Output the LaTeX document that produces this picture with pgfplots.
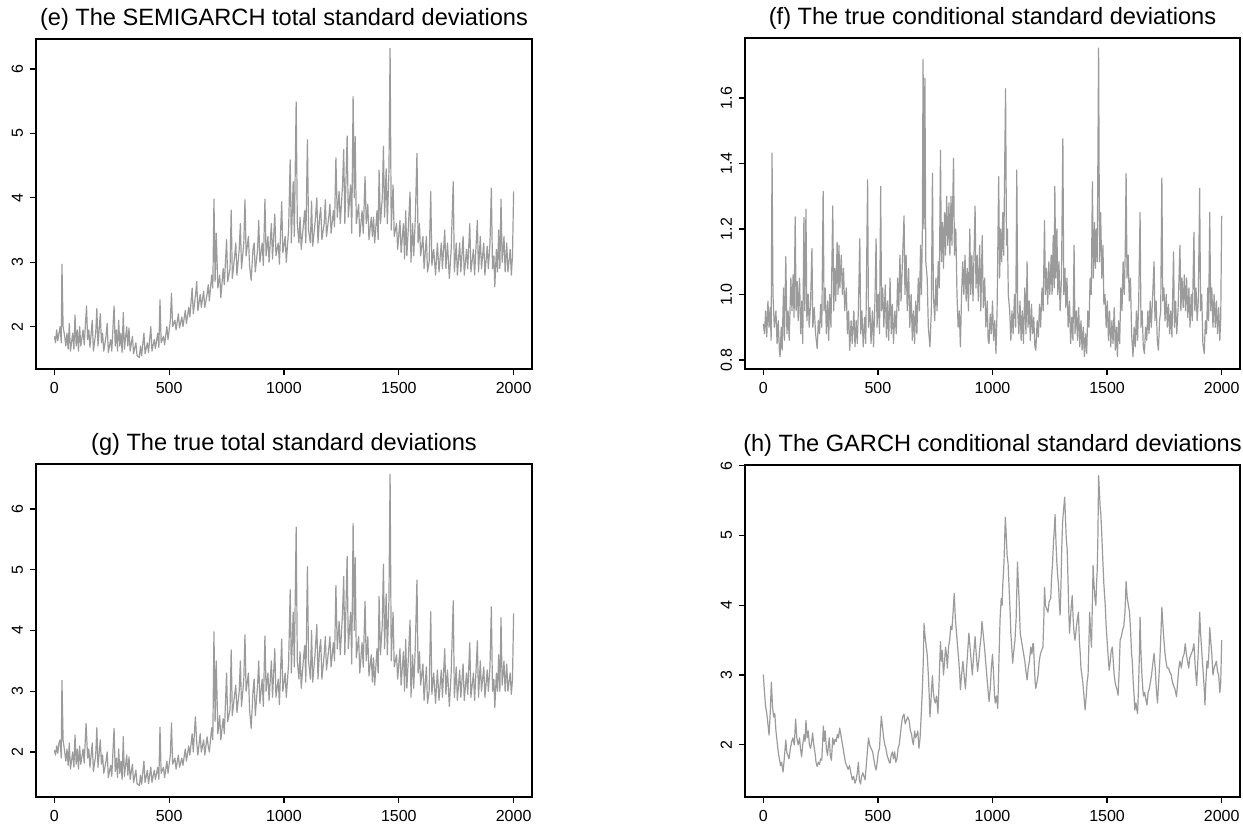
\documentclass[border=0pt]{standalone}
\usepackage{fontspec}
\setmainfont{Liberation Sans}
\usepackage{pgfplots}
\pgfplotsset{compat=1.18}
\definecolor{lc}{RGB}{155,155,155}
\pgfplotsset{
  rline/.style={color=lc, no markers, line width=0.6pt, line join=round},
  rpanel/.style={
    scale only axis,
    xmin=-80, xmax=2080,
    xtick={0,500,1000,1500,2000},
    axis line style={line width=0.6pt},
    tick style={black, line width=0.6pt},
    tick align=outside,
    xtick pos=lower, ytick pos=left,
    major tick length=3pt,
    /pgf/number format/assume math mode=true,
    /pgf/number format/1000 sep={},
    tick label style={font=\fontsize{8}{9}\selectfont},
    yticklabel style={rotate=90, anchor=south},
    every axis title shift=0pt,
    title style={font=\fontsize{11.8}{14}\selectfont, at={(0.5,1)}, anchor=base, yshift=6.75pt},
  }
}
\begin{document}
\begin{tikzpicture}
\path[use as bounding box] (0pt,0pt) rectangle (621.5pt,415pt);
% (e)
\begin{axis}[rpanel, at={(18pt,230.5pt)}, anchor=south west, width=248pt, height=165pt,
  ymin=1.343, ymax=6.466, ytick={2,3,4,5,6},
  title={(e) The SEMIGARCH total standard deviations}]
\addplot[rline] coordinates {
(0,1.85)(5,1.75)(10,1.95)(15,1.78)(20,1.9)(25,2.0)(30,1.75)(33,2.97)(38,2.0)(45,1.85)(50,1.7)(55,1.9)(60,1.65)(65,2.05)(70,1.62)(80,1.9)(85,1.65)(90,2.18)(95,1.7)(100,1.95)
(105,1.62)(110,2.0)(115,1.7)(125,1.95)(130,1.72)(140,2.32)(145,1.8)(150,1.95)(155,1.68)(165,2.1)(170,1.62)(180,1.9)(185,2.28)(190,1.7)(200,2.2)(205,1.75)(210,1.9)(215,1.62)(225,1.85)(230,2.05)
(235,1.6)(245,1.8)(250,1.62)(260,2.32)(265,1.7)(270,1.95)(275,1.62)(280,2.1)(285,1.7)(290,1.9)(295,1.6)(300,2.22)(305,1.65)(315,2.0)(320,1.7)(325,1.98)(330,1.62)(340,1.85)(345,1.58)(355,1.75)
(360,1.55)(370,1.52)(375,1.7)(380,1.55)(390,1.9)(395,1.58)(405,1.75)(410,1.6)(420,2.0)(425,1.62)(435,1.8)(440,1.66)(450,1.9)(455,1.68)(460,2.42)(465,1.75)(475,1.85)(480,1.72)(490,2.0)(495,1.8)
(505,2.1)(510,2.52)(515,2.0)(525,2.1)(530,1.95)(540,2.2)(545,1.98)(555,2.15)(560,2.0)(570,2.25)(575,2.05)(585,2.3)(590,2.15)(600,2.6)(605,2.2)(615,2.5)(620,2.7)(625,2.25)(635,2.5)(640,2.3)
(650,2.55)(655,2.3)(665,2.5)(670,2.65)(675,2.4)(685,2.8)(690,2.6)(695,3.98)(700,2.7)(705,3.45)(712,2.6)(720,2.8)(725,2.45)(735,2.9)(740,2.65)(750,3.35)(755,2.7)(765,2.9)(770,3.81)(775,2.75)
(785,3.1)(790,3.3)(795,2.8)(805,3.2)(810,3.6)(815,2.9)(825,3.3)(830,3.97)(835,3.1)(845,3.4)(850,2.95)(857,2.72)(865,3.2)(870,3.3)(875,2.85)(885,3.2)(890,3.65)(895,3.0)(905,3.3)(910,2.95)
(917,3.98)(922,3.1)(930,3.4)(935,3.0)(945,3.6)(950,3.05)(960,3.75)(965,3.1)(975,3.3)(980,2.97)(990,3.94)(995,3.15)(1005,3.4)(1010,3.0)(1020,3.5)(1027,4.59)(1032,3.3)(1040,4.25)(1045,3.4)(1053,5.49)
(1058,3.6)(1065,3.3)(1070,3.7)(1075,3.2)(1085,3.6)(1090,3.8)(1095,3.3)(1102,4.9)(1107,3.5)(1115,3.3)(1120,3.95)(1125,3.25)(1135,3.6)(1143,4.0)(1148,3.3)(1155,3.7)(1160,3.85)(1165,3.35)(1175,3.6)(1180,3.97)
(1185,3.4)(1195,3.7)(1200,3.9)(1205,3.45)(1215,3.8)(1220,3.55)(1226,4.62)(1232,3.7)(1240,4.1)(1245,3.6)(1255,4.2)(1260,4.75)(1265,3.6)(1275,4.96)(1280,3.7)(1290,4.2)(1295,3.45)(1301,5.57)(1306,4.0)(1310,4.95)
(1315,3.6)(1325,3.9)(1330,3.4)(1340,3.8)(1345,3.45)(1353,4.33)(1358,3.6)(1365,3.9)(1370,3.35)(1380,3.7)(1385,3.4)(1390,3.7)(1395,3.3)(1405,3.8)(1410,3.35)(1414,4.43)(1420,3.6)(1428,4.0)(1433,4.8)(1438,3.7)
(1445,4.45)(1450,3.6)(1457,4.4)(1462,6.32)(1467,3.5)(1475,4.2)(1480,3.4)(1490,3.6)(1495,3.2)(1505,3.65)(1510,3.15)(1520,3.6)(1525,3.05)(1530,3.8)(1535,3.1)(1541,3.5)(1549,4.09)(1553,3.0)(1560,3.6)(1565,3.1)
(1572,3.7)(1579,4.69)(1584,3.3)(1590,3.6)(1595,3.1)(1605,3.4)(1610,2.9)(1620,3.4)(1625,2.85)(1632,3.0)(1639,4.1)(1644,2.95)(1652,3.2)(1660,2.8)(1668,3.3)(1675,2.85)(1685,3.3)(1690,2.9)(1700,3.5)(1705,2.9)
(1712,3.3)(1720,2.75)(1728,3.2)(1737,4.25)(1742,2.85)(1750,3.3)(1755,2.8)(1765,3.3)(1770,2.85)(1780,3.4)(1785,2.8)(1795,3.2)(1800,2.9)(1809,3.6)(1814,2.85)(1825,3.2)(1830,2.8)(1837,3.3)(1842,3.65)(1847,2.85)
(1855,3.4)(1860,2.9)(1870,3.3)(1875,2.8)(1885,3.25)(1890,2.9)(1897,3.3)(1903,4.15)(1908,2.9)(1914,3.1)(1918,2.62)(1925,3.2)(1930,2.85)(1935,3.5)(1940,2.9)(1945,3.98)(1950,3.0)(1958,3.4)(1963,2.85)(1970,3.3)
(1975,2.85)(1985,3.2)(1990,2.8)(1995,3.1)(2000,4.1)
};
\end{axis}
% (f)
\begin{axis}[rpanel, at={(372.5pt,230.5pt)}, anchor=south west, width=247.5pt, height=165.5pt,
  ymin=0.7725, ymax=1.783, ytick={0.8,1.0,1.2,1.4,1.6},
  yticklabel style={/pgf/number format/.cd, fixed, fixed zerofill, precision=1},
  title={(f) The true conditional standard deviations}]
\addplot[rline] coordinates {
(0,0.91)(5,0.88)(10,0.95)(15,0.87)(20,0.98)(25,0.9)(30,0.96)(34,0.86)(38,1.432)(42,1.0)(48,0.9)(55,0.95)(60,0.85)(65,0.92)(70,0.83)(73,0.81)(78,0.9)(82,0.83)(88,1.02)(92,0.86)
(98,1.115)(103,0.88)(108,0.95)(113,0.86)(120,1.05)(125,0.95)(130,1.06)(134,0.93)(139,1.237)(143,0.95)(148,1.04)(152,0.92)(158,1.05)(163,0.88)(168,0.98)(172,0.85)(177,1.235)(181,0.95)(186,1.26)(190,0.92)
(196,1.0)(200,0.9)(206,0.97)(212,1.14)(216,0.9)(222,0.96)(228,0.88)(235,0.835)(240,0.92)(245,0.88)(250,0.97)(255,0.9)(261,1.315)(265,0.95)(270,1.02)(275,0.88)(281,0.98)(285,0.86)(290,1.0)(295,0.9)
(303,1.27)(307,0.95)(312,1.08)(316,0.98)(322,1.16)(326,1.0)(330,1.15)(334,1.02)(340,1.12)(345,1.0)(350,1.08)(355,0.95)(362,1.02)(367,0.88)(372,0.95)(377,0.83)(383,0.92)(388,0.85)(395,0.95)(400,0.84)
(405,0.92)(410,0.85)(415,0.96)(421,1.17)(425,0.88)(430,0.95)(436,0.84)(442,0.93)(447,0.85)(455,1.35)(459,0.9)(465,0.96)(470,0.85)(476,0.95)(481,0.84)(487,0.98)(492,1.17)(496,0.9)(502,1.0)(507,0.88)
(512,1.33)(516,0.95)(521,1.02)(526,0.9)(532,1.03)(537,0.87)(542,0.98)(547,0.86)(553,1.05)(558,0.88)(563,0.97)(568,0.85)(574,0.95)(580,0.88)(586,1.05)(591,0.95)(596,1.12)(601,0.98)(607,1.1)(614,1.24)
(618,1.0)(623,1.12)(628,0.95)(634,1.08)(639,0.9)(645,1.0)(650,0.86)(655,0.95)(660,0.85)(665,0.98)(670,0.88)(676,1.05)(681,0.95)(686,1.15)(690,1.0)(694,1.2)(697,1.717)(701,1.2)(705,1.66)(709,1.1)
(715,1.05)(720,0.9)(727,0.84)(733,0.95)(738,1.37)(742,1.0)(748,0.92)(753,1.05)(758,0.95)(763,1.1)(768,1.02)(773,1.44)(777,1.1)(782,1.22)(786,1.08)(791,1.25)(795,1.12)(800,1.3)(805,1.15)(810,1.28)
(814,1.12)(819,1.3)(823,1.15)(830,1.415)(834,1.12)(840,1.2)(845,1.0)(850,0.9)(855,0.95)(860,0.84)(865,1.0)(870,1.1)(875,1.0)(880,1.12)(885,0.98)(890,1.08)(895,0.95)(901,1.2)(905,1.0)(910,1.12)
(915,0.98)(924,1.27)(928,1.02)(933,1.12)(938,0.98)(944,1.15)(949,0.95)(955,1.18)(960,0.96)(966,1.05)(971,0.9)(977,0.98)(981,0.86)(985,0.85)(990,0.94)(995,0.88)(1000,0.98)(1005,0.86)(1010,0.92)(1015,0.82)
(1020,0.95)(1027,1.36)(1031,1.05)(1036,1.2)(1040,1.1)(1045,1.25)(1049,1.12)(1053,1.38)(1057,1.628)(1061,1.15)(1065,1.2)(1069,1.0)(1075,0.95)(1080,0.86)(1085,0.95)(1090,0.88)(1096,1.0)(1101,0.9)(1106,1.38)(1110,0.95)
(1115,0.88)(1120,0.98)(1125,0.86)(1130,0.95)(1135,0.85)(1141,1.02)(1146,0.88)(1151,1.1)(1155,0.9)(1160,0.98)(1165,0.86)(1170,0.97)(1175,0.88)(1180,0.93)(1185,0.84)(1189,0.83)(1195,0.92)(1200,0.87)(1205,0.97)(1210,0.9)
(1216,1.02)(1221,0.95)(1227,1.225)(1231,1.0)(1236,1.08)(1241,0.97)(1246,1.1)(1250,1.0)(1256,1.12)(1260,1.0)(1265,1.18)(1269,1.02)(1272,1.33)(1276,1.05)(1281,1.2)(1285,1.0)(1290,1.1)(1295,0.95)(1301,1.05)(1307,1.476)
(1311,1.0)(1316,1.08)(1320,0.96)(1325,1.05)(1330,0.9)(1336,0.98)(1341,0.85)(1346,0.93)(1351,0.86)(1356,1.15)(1360,0.88)(1366,0.95)(1371,0.86)(1376,0.96)(1381,0.84)(1386,0.92)(1391,0.83)(1396,0.9)(1401,0.81)(1406,0.88)
(1411,0.82)(1416,0.95)(1421,0.9)(1426,1.05)(1431,1.0)(1436,1.344)(1440,1.05)(1445,1.22)(1449,1.08)(1453,1.2)(1457,1.1)(1463,1.752)(1467,1.1)(1472,1.25)(1477,1.05)(1482,1.15)(1486,0.97)(1491,1.0)(1496,0.9)(1501,0.98)
(1506,0.86)(1511,0.95)(1516,0.84)(1521,0.92)(1526,0.85)(1531,0.96)(1536,0.83)(1541,0.9)(1545,0.81)(1550,0.92)(1555,0.85)(1560,1.02)(1565,0.95)(1570,1.1)(1575,1.0)(1579,1.12)(1583,1.37)(1587,1.05)(1592,1.12)(1597,0.98)
(1602,1.05)(1607,0.88)(1613,0.81)(1618,0.9)(1623,0.84)(1628,0.95)(1633,0.86)(1638,0.98)(1644,1.25)(1648,0.9)(1653,0.95)(1658,0.84)(1663,0.82)(1668,0.9)(1673,0.86)(1678,0.95)(1683,0.88)(1688,0.98)(1693,0.9)(1699,1.0)
(1705,1.1)(1709,0.92)(1714,0.98)(1719,0.86)(1724,0.83)(1729,0.92)(1734,0.95)(1739,1.356)(1743,0.98)(1748,1.02)(1753,0.92)(1758,1.0)(1763,0.9)(1768,0.97)(1773,0.88)(1778,0.95)(1783,0.87)(1790,1.13)(1794,0.9)(1799,0.98)
(1804,0.88)(1810,0.96)(1818,1.15)(1822,0.95)(1827,1.05)(1832,0.96)(1837,1.06)(1842,0.95)(1847,1.05)(1852,0.93)(1857,1.02)(1862,0.9)(1867,1.0)(1872,0.92)(1879,1.19)(1883,0.95)(1888,1.02)(1893,0.92)(1898,0.98)(1904,1.324)
(1908,0.95)(1913,1.0)(1918,0.85)(1924,0.82)(1929,0.92)(1934,0.88)(1939,1.02)(1943,0.92)(1948,1.25)(1952,0.95)(1957,1.02)(1962,0.9)(1967,1.0)(1972,0.9)(1977,0.98)(1982,0.88)(1987,0.96)(1992,0.86)(1996,0.93)(2000,1.24)
};
\end{axis}
% (g)
\begin{axis}[rpanel, at={(18pt,16.5pt)}, anchor=south west, width=248pt, height=166.5pt,
  ymin=1.26, ymax=6.74, ytick={2,3,4,5,6},
  title={(g) The true total standard deviations}]
\addplot[rline] coordinates {
(0,2.03)(5,1.95)(10,2.1)(15,1.98)(20,2.15)(25,2.2)(30,1.9)(33,3.18)(38,2.2)(45,2.0)(50,1.85)(55,2.05)(60,1.78)(65,2.15)(70,1.72)(80,2.0)(85,1.75)(90,2.28)(95,1.8)(100,2.05)
(105,1.72)(110,2.1)(115,1.8)(125,2.05)(130,1.82)(138,2.47)(145,1.9)(150,2.05)(155,1.75)(165,2.15)(170,1.68)(180,1.95)(185,2.4)(190,1.75)(200,2.2)(205,1.8)(210,1.95)(215,1.65)(225,1.85)(230,2.0)
(235,1.58)(245,1.78)(250,1.6)(260,2.39)(265,1.68)(270,1.9)(275,1.58)(280,2.05)(285,1.65)(290,1.85)(295,1.55)(300,2.25)(305,1.6)(315,1.95)(320,1.62)(325,1.92)(330,1.55)(340,1.8)(345,1.5)(355,1.7)
(360,1.48)(370,1.45)(375,1.62)(380,1.47)(390,1.85)(395,1.5)(405,1.7)(410,1.48)(420,1.75)(425,1.5)(435,1.7)(440,1.55)(450,1.75)(455,1.55)(460,2.41)(465,1.65)(475,1.75)(480,1.58)(490,1.85)(495,1.65)
(505,1.95)(510,2.48)(515,1.8)(525,1.9)(530,1.72)(540,1.95)(545,1.75)(555,1.9)(560,1.78)(570,2.05)(575,1.85)(585,2.1)(590,1.95)(600,2.3)(605,2.0)(614,2.58)(620,2.15)(625,1.95)(635,2.3)(640,2.0)
(650,2.2)(655,1.95)(665,2.25)(670,2.1)(675,2.0)(685,2.4)(690,2.2)(695,3.98)(700,2.5)(705,3.5)(712,2.3)(720,2.6)(725,2.2)(735,2.55)(740,2.3)(750,3.3)(755,2.5)(765,2.7)(770,3.68)(775,2.6)
(785,2.95)(790,3.1)(795,2.65)(805,3.0)(810,3.5)(815,2.75)(825,3.2)(830,3.93)(835,3.0)(845,3.3)(850,2.7)(857,2.39)(865,3.0)(870,3.2)(875,2.6)(885,3.1)(890,3.5)(895,2.8)(905,3.2)(910,2.75)
(917,3.91)(922,3.0)(930,3.3)(935,2.85)(945,3.5)(950,2.9)(960,3.7)(965,2.9)(975,3.2)(980,2.78)(990,3.86)(995,3.0)(1005,3.3)(1010,2.9)(1020,3.45)(1027,4.67)(1032,3.3)(1040,4.3)(1045,3.4)(1053,5.7)
(1058,3.5)(1065,3.2)(1070,3.65)(1075,3.05)(1085,3.55)(1090,3.75)(1095,3.15)(1102,5.05)(1107,3.5)(1115,3.2)(1120,4.0)(1125,3.15)(1135,3.6)(1143,4.1)(1148,3.2)(1155,3.7)(1160,3.85)(1165,3.2)(1175,3.6)(1180,3.9)
(1185,3.35)(1195,3.7)(1200,3.9)(1205,3.4)(1215,3.8)(1220,3.5)(1226,4.74)(1232,3.7)(1240,4.15)(1245,3.6)(1255,4.3)(1260,4.89)(1265,3.6)(1275,5.22)(1280,3.7)(1290,4.3)(1295,3.45)(1301,5.76)(1306,4.0)(1310,5.2)
(1315,3.55)(1325,3.9)(1330,3.3)(1340,3.8)(1345,3.4)(1353,4.48)(1358,3.5)(1365,3.9)(1370,3.25)(1380,3.6)(1385,3.15)(1390,3.55)(1395,3.1)(1405,3.7)(1410,3.3)(1414,4.56)(1420,3.6)(1428,4.1)(1433,5.09)(1438,3.7)
(1445,4.6)(1450,3.6)(1457,4.5)(1462,6.57)(1467,3.5)(1475,4.3)(1480,3.4)(1490,3.6)(1495,3.2)(1505,3.7)(1510,3.1)(1520,3.65)(1525,3.0)(1530,3.85)(1535,3.05)(1541,3.5)(1549,4.17)(1553,2.9)(1560,3.6)(1565,3.05)
(1572,3.75)(1579,4.83)(1584,3.3)(1590,3.65)(1595,3.1)(1605,3.45)(1610,2.85)(1620,3.4)(1625,2.8)(1632,3.0)(1639,4.31)(1644,2.95)(1652,3.3)(1660,2.8)(1668,3.35)(1675,2.85)(1685,3.35)(1690,2.9)(1700,3.7)(1705,2.95)
(1712,3.35)(1720,2.75)(1728,3.3)(1737,4.49)(1742,2.9)(1750,3.4)(1755,2.85)(1765,3.35)(1770,2.9)(1780,3.45)(1785,2.85)(1795,3.3)(1800,2.95)(1809,3.8)(1814,2.9)(1825,3.3)(1830,2.85)(1837,3.4)(1842,3.83)(1847,2.9)
(1855,3.5)(1860,3.0)(1870,3.4)(1875,2.9)(1885,3.35)(1890,3.0)(1897,3.4)(1903,4.39)(1908,3.0)(1914,3.2)(1918,2.73)(1925,3.3)(1930,3.0)(1935,3.6)(1940,3.0)(1945,4.21)(1950,3.1)(1958,3.5)(1963,3.0)(1970,3.45)
(1975,3.0)(1985,3.3)(1990,2.95)(1995,3.2)(2000,4.28)
};
\end{axis}
% (h)
\begin{axis}[rpanel, at={(372.5pt,16.5pt)}, anchor=south west, width=247.5pt, height=166pt,
  ymin=1.253, ymax=6.01, ytick={2,3,4,5,6},
  title={(h) The GARCH conditional standard deviations}]
\addplot[rline] coordinates {
(0,3.01)(5,2.75)(10,2.55)(15,2.45)(20,2.3)(25,2.14)(30,2.45)(35,2.9)(40,2.55)(45,2.4)(50,2.45)(55,2.2)(60,2.05)(65,1.9)(70,1.8)(75,1.7)(80,1.75)(86,1.61)(90,1.75)(95,1.95)
(98,2.07)(102,1.9)(107,1.85)(112,1.8)(118,1.95)(124,2.05)(129,2.1)(135,2.0)(141,2.37)(146,2.1)(152,2.0)(158,2.1)(162,1.95)(167,1.83)(172,2.0)(178,2.15)(182,2.05)(186,2.35)(191,2.1)(196,2.2)
(201,2.0)(206,1.95)(211,2.05)(215,2.17)(220,2.0)(225,1.9)(230,1.75)(235,1.69)(240,1.75)(245,1.72)(250,1.8)(255,1.78)(262,2.27)(266,2.05)(270,2.2)(275,1.95)(280,1.85)(284,2.0)(288,2.1)(292,1.85)
(297,1.78)(303,2.1)(308,2.0)(313,2.08)(318,2.05)(323,2.15)(328,2.1)(333,2.24)(338,2.15)(343,2.05)(348,1.95)(353,1.85)(358,1.75)(364,1.7)(370,1.65)(376,1.7)(382,1.6)(388,1.5)(394,1.55)(400,1.45)
(405,1.5)(410,1.6)(415,1.75)(419,1.5)(424,1.44)(429,1.55)(434,1.6)(439,1.55)(444,1.5)(449,1.7)(455,1.95)(459,2.1)(464,2.0)(470,1.95)(477,1.9)(482,1.8)(487,1.7)(492,1.64)(497,1.75)(502,1.9)
(507,1.95)(511,2.2)(515,2.41)(520,2.25)(525,2.1)(530,2.0)(535,1.95)(540,1.85)(545,1.8)(550,1.75)(553,1.74)(558,1.85)(563,1.9)(568,1.8)(573,1.9)(578,1.75)(583,1.8)(588,1.95)(593,2.0)(598,2.15)
(603,2.3)(608,2.4)(614,2.44)(619,2.3)(624,2.35)(630,2.4)(636,2.35)(642,2.2)(647,2.15)(651,2.05)(655,2.0)(660,2.2)(665,2.1)(670,2.15)(674,2.2)(679,1.95)(684,2.1)(690,2.5)(694,2.8)(698,3.2)
(701,3.74)(706,3.55)(711,3.4)(715,3.3)(720,3.0)(724,2.7)(727,2.4)(731,2.6)(734,2.8)(738,2.99)(742,2.75)(746,2.65)(750,2.6)(756,2.7)(762,2.45)(767,2.9)(773,3.48)(777,3.2)(781,3.35)(786,3.0)
(791,3.2)(795,3.4)(799,3.3)(803,3.1)(808,3.4)(813,3.5)(818,3.7)(823,3.65)(828,3.9)(833,4.17)(838,3.8)(843,3.6)(848,3.4)(853,3.2)(857,3.0)(860,2.79)(865,3.0)(871,3.2)(876,3.0)(882,2.8)
(887,3.1)(892,3.35)(897,3.6)(902,3.4)(907,3.2)(912,3.0)(918,3.3)(924,3.55)(929,3.3)(935,3.05)(940,3.2)(945,3.4)(950,3.55)(954,3.77)(959,3.6)(965,3.4)(970,3.2)(975,3.0)(980,2.8)(985,2.62)
(990,2.8)(995,3.1)(1000,3.3)(1005,3.0)(1009,2.7)(1012,2.6)(1017,2.7)(1023,2.52)(1028,3.2)(1033,3.8)(1038,4.1)(1042,4.0)(1045,4.3)(1050,4.6)(1056,5.26)(1060,5.0)(1064,4.7)(1068,4.6)(1073,4.2)(1077,3.9)
(1080,3.6)(1084,3.4)(1088,3.17)(1093,3.35)(1098,3.5)(1103,3.8)(1106,4.2)(1109,4.62)(1113,4.3)(1117,4.0)(1121,3.6)(1126,3.5)(1131,3.4)(1136,3.3)(1141,3.2)(1146,3.05)(1151,2.93)(1156,3.1)(1161,3.2)(1167,3.4)
(1172,3.3)(1176,3.45)(1179,3.45)(1183,3.1)(1186,2.9)(1189,2.81)(1194,2.9)(1199,3.0)(1204,3.2)(1209,3.3)(1214,3.35)(1220,3.4)(1224,3.8)(1227,4.26)(1231,4.0)(1236,3.95)(1242,3.9)(1247,4.05)(1254,4.1)(1258,4.4)
(1262,4.6)(1266,4.9)(1270,5.1)(1273,5.3)(1277,4.9)(1281,4.6)(1285,4.4)(1288,4.3)(1292,4.0)(1295,3.86)(1299,4.3)(1302,4.8)(1306,5.2)(1311,5.4)(1315,5.55)(1319,5.2)(1322,4.95)(1326,4.8)(1330,4.3)(1333,3.9)
(1336,3.6)(1340,3.8)(1344,4.0)(1348,4.14)(1352,3.8)(1356,3.6)(1360,3.5)(1365,3.65)(1370,3.8)(1375,3.9)(1379,3.5)(1383,3.3)(1386,3.1)(1390,3.0)(1394,2.9)(1399,2.7)(1404,2.5)(1409,2.7)(1413,2.9)(1417,3.0)
(1421,3.5)(1424,3.9)(1428,3.6)(1432,3.4)(1435,3.9)(1439,4.57)(1443,4.3)(1447,4.1)(1451,4.0)(1454,4.3)(1457,4.5)(1460,5.0)(1463,5.86)(1467,5.6)(1470,5.4)(1473,5.3)(1477,5.0)(1482,4.6)(1486,4.3)(1492,4.0)
(1496,3.7)(1500,3.5)(1504,3.3)(1509,3.07)(1514,3.2)(1518,3.35)(1523,3.4)(1527,3.2)(1531,3.0)(1535,2.9)(1538,2.85)(1543,2.8)(1548,2.71)(1552,3.0)(1557,3.5)(1562,3.55)(1568,3.65)(1573,3.7)(1578,3.9)(1583,4.34)
(1588,4.1)(1593,4.0)(1598,3.9)(1603,3.6)(1607,3.3)(1610,3.2)(1614,2.9)(1618,2.7)(1621,2.5)(1626,2.6)(1630,2.5)(1633,2.45)(1637,2.8)(1641,3.3)(1644,3.83)(1648,3.3)(1652,3.0)(1656,2.8)(1659,2.7)(1664,2.75)
(1669,2.65)(1674,2.57)(1679,2.75)(1684,2.8)(1689,2.9)(1694,3.0)(1699,3.15)(1705,3.31)(1710,3.1)(1715,2.8)(1720,2.6)(1725,2.9)(1730,3.2)(1735,3.6)(1739,3.97)(1744,3.7)(1748,3.5)(1753,3.3)(1757,3.2)(1762,3.1)
(1768,3.1)(1773,3.05)(1780,3.0)(1785,2.9)(1790,2.85)(1796,2.8)(1803,2.69)(1808,2.9)(1813,3.1)(1818,3.2)(1824,3.1)(1830,3.25)(1836,3.3)(1841,3.45)(1846,3.3)(1851,3.2)(1856,3.1)(1861,3.25)(1867,3.3)(1873,3.35)
(1879,3.45)(1885,3.1)(1891,2.85)(1896,3.2)(1900,3.5)(1904,3.9)(1908,3.6)(1912,3.4)(1916,3.2)(1920,3.0)(1924,2.8)(1927,2.57)(1931,2.9)(1936,3.2)(1940,3.1)(1944,3.3)(1948,3.68)(1952,3.5)(1957,3.3)(1962,3.0)
(1967,3.1)(1972,3.15)(1977,3.2)(1982,3.05)(1987,3.0)(1992,2.75)(1996,2.9)(2000,3.5)
};
\end{axis}
\end{tikzpicture}
\end{document}
